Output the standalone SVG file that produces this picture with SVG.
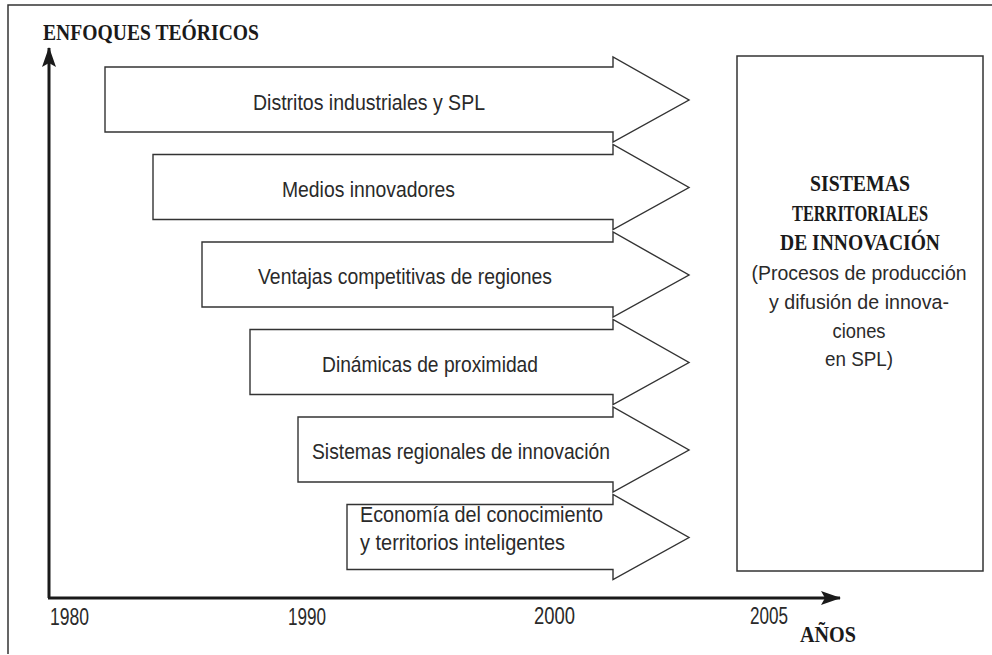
<svg xmlns="http://www.w3.org/2000/svg" width="992" height="655" viewBox="0 0 992 655">
<style>
.frame{fill:none;stroke:#333;stroke-width:1.5}
.arr{fill:#fff;stroke:#333;stroke-width:1.4;stroke-linejoin:miter}
.axis{fill:none;stroke:#1a1a1a;stroke-width:3}
.lbl{font-family:"Liberation Sans",Arial,sans-serif;font-size:22.5px;fill:#2a2a2a}
.box{font-size:20.5px}
.yr{font-size:24px}
.bold{font-family:"Liberation Serif","Times New Roman",serif;font-size:23px;font-weight:bold;fill:#1a1a1a}
.mid{text-anchor:middle}
</style>
<defs>
<marker id="ah" viewBox="0 0 20 14" refX="19" refY="7" markerWidth="20" markerHeight="14" markerUnits="userSpaceOnUse" orient="auto">
<path d="M0,0 L20,7 L0,14 L4,7 Z" fill="#1a1a1a"/>
</marker>
</defs>
<rect width="992" height="655" fill="#fff"/>
<path class="frame" d="M8,654 V5 H992"/>

<g id="title">
<text class="bold" x="43" y="40" textLength="216" lengthAdjust="spacingAndGlyphs">ENFOQUES TEÓRICOS</text>
</g>

<g id="arrow1">
<path class="arr" d="M105,67 H613 V57 L689,100 L613,142 V132 H105 Z"/>
<text class="lbl" x="253" y="110" textLength="232" lengthAdjust="spacingAndGlyphs">Distritos industriales y SPL</text>
</g>
<g id="arrow2">
<path class="arr" d="M153,154.5 H613 V144.5 L689,187.5 L613,229.5 V219.5 H153 Z"/>
<text class="lbl" x="282" y="197" textLength="173" lengthAdjust="spacingAndGlyphs">Medios innovadores</text>
</g>
<g id="arrow3">
<path class="arr" d="M202,242 H613 V232 L689,275 L613,317 V307 H202 Z"/>
<text class="lbl" x="258" y="284" textLength="294" lengthAdjust="spacingAndGlyphs">Ventajas competitivas de regiones</text>
</g>
<g id="arrow4">
<path class="arr" d="M250,329.5 H613 V319.5 L689,362.5 L613,404.5 V394.5 H250 Z"/>
<text class="lbl" x="322" y="372" textLength="216" lengthAdjust="spacingAndGlyphs">Dinámicas de proximidad</text>
</g>
<g id="arrow5">
<path class="arr" d="M298,417 H613 V407 L689,450 L613,492 V482 H298 Z"/>
<text class="lbl" x="312" y="459" textLength="298" lengthAdjust="spacingAndGlyphs">Sistemas regionales de innovación</text>
</g>
<g id="arrow6">
<path class="arr" d="M347,504.5 H613 V494.5 L689,537.5 L613,579.5 V569.5 H347 Z"/>
<text class="lbl" x="360" y="522" textLength="243" lengthAdjust="spacingAndGlyphs">Economía del conocimiento</text>
<text class="lbl" x="360" y="550" textLength="205" lengthAdjust="spacingAndGlyphs">y territorios inteligentes</text>
</g>

<g id="result">
<rect class="frame" x="737" y="56" width="246" height="515"/>
<text class="bold mid" x="860" y="191" textLength="100" lengthAdjust="spacingAndGlyphs">SISTEMAS</text>
<text class="bold mid" x="860" y="221" textLength="136" lengthAdjust="spacingAndGlyphs">TERRITORIALES</text>
<text class="bold mid" x="860" y="250" textLength="160" lengthAdjust="spacingAndGlyphs">DE INNOVACIÓN</text>
<text class="lbl box mid" x="859" y="280" textLength="215" lengthAdjust="spacingAndGlyphs">(Procesos de producción</text>
<text class="lbl box mid" x="859" y="309" textLength="180" lengthAdjust="spacingAndGlyphs">y difusión de innova-</text>
<text class="lbl box mid" x="859" y="338" textLength="53" lengthAdjust="spacingAndGlyphs">ciones</text>
<text class="lbl box mid" x="859" y="366" textLength="68" lengthAdjust="spacingAndGlyphs">en SPL)</text>
</g>

<g id="connectors">
<path class="axis" d="M49,598 V48" marker-end="url(#ah)"/>
<path class="axis" d="M48,598 H840" marker-end="url(#ah)"/>
</g>

<g id="years">
<text class="lbl yr" x="50" y="625" textLength="39" lengthAdjust="spacingAndGlyphs">1980</text>
<text class="lbl yr" x="288" y="625" textLength="38" lengthAdjust="spacingAndGlyphs">1990</text>
<text class="lbl yr" x="534" y="624" textLength="41" lengthAdjust="spacingAndGlyphs">2000</text>
<text class="lbl yr" x="750" y="624" textLength="38" lengthAdjust="spacingAndGlyphs">2005</text>
<text class="bold" x="800" y="642" textLength="56" lengthAdjust="spacingAndGlyphs">AÑOS</text>
</g>
</svg>
